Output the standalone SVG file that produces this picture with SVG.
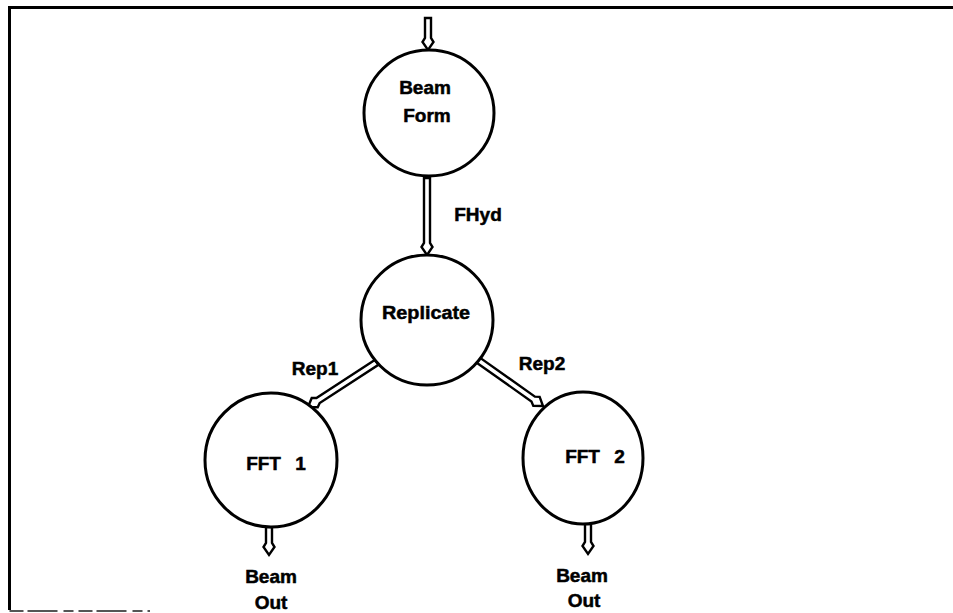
<svg xmlns="http://www.w3.org/2000/svg" width="953" height="613" viewBox="0 0 953 613">
<style>
.node{fill:#fff;stroke:#000;stroke-width:3}
.lbl{font-family:"Liberation Sans",Arial,sans-serif;font-weight:bold;font-size:19px;fill:#000;stroke:#000;stroke-width:0.5;text-anchor:middle}
.arr{fill:#fff;stroke:#000;stroke-width:2.4;stroke-linejoin:miter}
.frame{fill:none;stroke:#000;stroke-width:3}
</style>
<rect width="953" height="613" fill="#fff"/>
<g id="frame">
<path class="frame" d="M953,7.5 L9.5,7.5 L9.5,610"/>
<path d="M9.5,611 L150,611" stroke="#555" stroke-width="2" stroke-dasharray="14,4,30,6,10,5" fill="none"/>
</g>
<g id="connectors">
<path class="arr" transform="translate(428,50)" d="M-3,-32 L-3,-12 L-5.5,-8 L0,0 L5.5,-8 L3,-12 L3,-32 Z"/>
<path class="arr" transform="translate(427,255)" d="M-3,-77 L-3,-12 L-5.5,-8 L0,0 L5.5,-8 L3,-12 L3,-77 Z"/>
<path class="arr" transform="translate(308,407) rotate(57)" d="M-3,-82 L-3,-12 L-5.5,-8 L0,0 L5.5,-8 L3,-12 L3,-82 Z"/>
<path class="arr" transform="translate(543,406) rotate(-54.7)" d="M-3,-80 L-3,-12 L-5.5,-8 L0,0 L5.5,-8 L3,-12 L3,-80 Z"/>
<path class="arr" transform="translate(269,555)" d="M-3,-28 L-3,-12 L-5.5,-8 L0,0 L5.5,-8 L3,-12 L3,-28 Z"/>
<path class="arr" transform="translate(588,554)" d="M-3,-30 L-3,-12 L-5.5,-8 L0,0 L5.5,-8 L3,-12 L3,-30 Z"/>
<text class="lbl" x="478" y="221">FHyd</text>
<text class="lbl" x="315" y="375">Rep1</text>
<text class="lbl" x="542" y="370">Rep2</text>
<text class="lbl" x="271" y="583">Beam</text>
<text class="lbl" x="271" y="609">Out</text>
<text class="lbl" x="582" y="582">Beam</text>
<text class="lbl" x="584" y="607">Out</text>
</g>
<g id="beamform">
<ellipse class="node" cx="429" cy="113" rx="65" ry="63"/>
<text class="lbl" x="425" y="94">Beam</text>
<text class="lbl" x="427" y="122">Form</text>
</g>
<g id="replicate">
<ellipse class="node" cx="427" cy="320" rx="66" ry="65"/>
<text class="lbl" x="426" y="319" textLength="88" lengthAdjust="spacingAndGlyphs">Replicate</text>
</g>
<g id="fft1">
<ellipse class="node" cx="271" cy="460" rx="66" ry="67"/>
<text class="lbl" x="276" y="470" word-spacing="9">FFT 1</text>
</g>
<g id="fft2">
<ellipse class="node" cx="583" cy="458" rx="60" ry="66"/>
<text class="lbl" x="595" y="463" word-spacing="9">FFT 2</text>
</g>
</svg>
